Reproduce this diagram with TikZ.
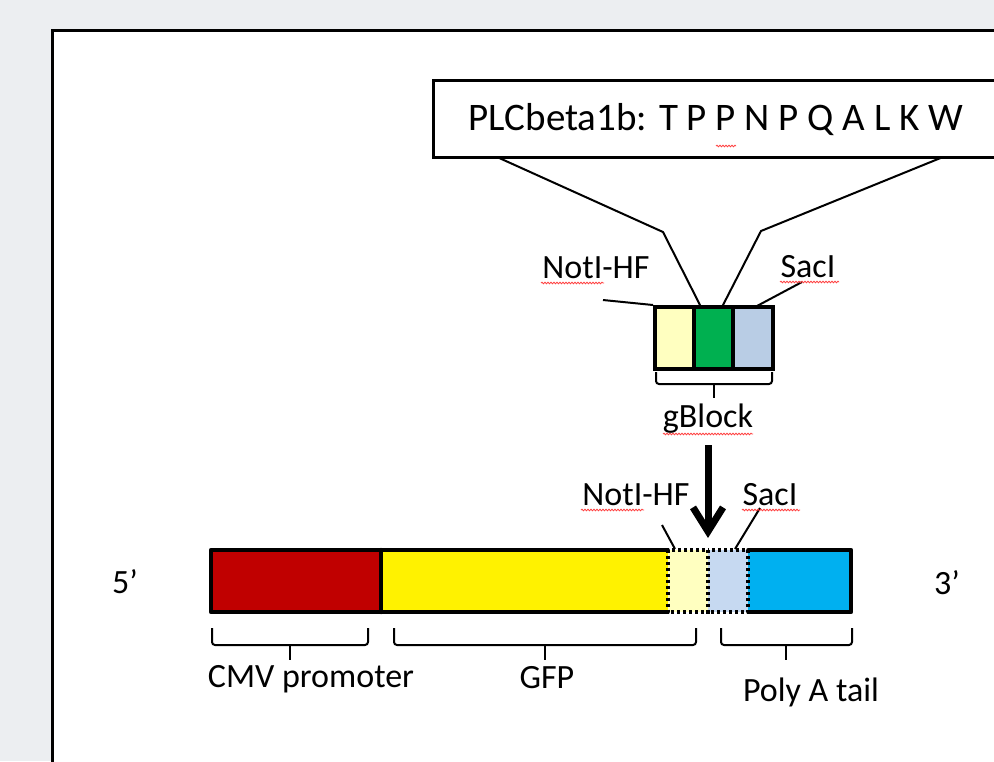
\documentclass[tikz,border=0pt]{standalone}
\usepackage{fontspec}
\setmainfont{Carlito}
\usetikzlibrary{arrows.meta,decorations.pathmorphing,calc}
\definecolor{bgc}{RGB}{236,238,241}
\definecolor{cmvred}{RGB}{192,0,0}
\definecolor{paleyel}{RGB}{255,255,192}
\definecolor{gbgreen}{RGB}{0,176,80}
\definecolor{gbblue}{RGB}{185,205,229}
\definecolor{ltblue}{RGB}{198,217,241}
\definecolor{cyanb}{RGB}{0,176,240}
\begin{document}
\begin{tikzpicture}[x=1pt,y=-1pt,
  lbl/.style={font=\fontsize{34}{40}\selectfont, inner sep=0pt},
  hdrtxt/.style={font=\fontsize{39}{46}\selectfont, inner sep=0pt},
  leader/.style={line width=2pt},
  bracepath/.style={line width=2pt, rounded corners=3pt},
  gcell/.style={draw, line width=4pt, minimum height=62pt, inner sep=0pt},
  bcell/.style={minimum height=62pt, inner sep=0pt},
  solidbar/.style={line width=4pt, line join=round, line cap=round},
  dotbar/.style={line width=3.5pt, dash pattern=on 3pt off 3pt},
  wavy/.style={red!75!white, line width=0.8pt, decorate,
    decoration={snake, amplitude=0.8pt, segment length=3pt}}
]
\clip (0,0) rectangle (994,761);
\fill[bgc] (0,0) rectangle (994,761);
\fill[white] (52,30) rectangle (1000,800);
\draw[line width=3pt] (52,800) -- (52,30) -- (1000,30);

% header box
\node[draw, line width=3pt, minimum width=562pt, minimum height=77pt, inner sep=0pt] (hdr) at (714,118.5) {};
\node[hdrtxt] (hdrt) at (716,120) {PLCbeta1b: T P P N P Q A L K W};
\draw[wavy] (716,146) -- (736,146);

% gBlock cells
\node[gcell, fill=paleyel, minimum width=39pt] (gy) at (674.5,338) {};
\node[gcell, fill=gbgreen, minimum width=39pt] (gg) at (713.5,338) {};
\node[gcell, fill=gbblue, minimum width=40pt] (gb) at (753,338) {};

% header to gBlock lines
\coordinate (hl) at (497,157);
\coordinate (hlb) at (663,232);
\coordinate (hlc) at (701,307);
\coordinate (hr) at (943,157);
\coordinate (hrb) at (761,231);
\coordinate (hrc) at (722,307);
\draw[leader] (hl) -- (hlb) -- (hlc);
\draw[leader] (hr) -- (hrb) -- (hrc);

% top labels
\node[lbl] (nh1) at (596,268) {NotI-HF};
\node[lbl] (sc1) at (808,267) {SacI};
\coordinate (n1a) at (603,300);
\coordinate (s1a) at (802,282);
\coordinate (s1b) at (757,306);
\draw[leader] (n1a) -- (gy.north west);
\draw[leader] (s1a) -- (s1b);
\draw[wavy] (541,283) -- (604,283);
\draw[wavy] (780,282) -- (839,282);

% gBlock brace
\draw[bracepath] (656,372) -- (656,384) -- (772,384) -- (772,372);
\draw[leader] (714,384) -- (714,398);
\node[lbl] (gbl) at (708,419) {gBlock};
\draw[wavy] (663,434) -- (753,434);

% arrow
\coordinate (atop) at (708,445);
\coordinate (atip) at (708,538);
\draw[line width=7pt, -{Straight Barb[length=24pt,width=30pt]}] (atop) -- (atip);

% main bar
\node[bcell, fill=cmvred, minimum width=170pt] (cmv) at (296,581) {};
\node[bcell, fill=yellow, minimum width=287pt] (gfp) at (524.5,581) {};
\node[bcell, fill=paleyel, minimum width=40pt] (pale) at (688,581) {};
\node[bcell, fill=ltblue, minimum width=40pt] (sac) at (728,581) {};
\node[bcell, fill=cyanb, minimum width=103pt] (pa) at (799.5,581) {};
\draw[solidbar] (pale.north west) -- (cmv.north west) -- (cmv.south west) -- (pale.south west);
\draw[solidbar] (cmv.north east) -- (cmv.south east);
\draw[solidbar] (sac.north east) -- (pa.north east) -- (pa.south east) -- (sac.south east);
\draw[dotbar] (pale.north west) rectangle (pale.south east);
\draw[dotbar] (sac.north west) rectangle (sac.south east);

% lower labels
\node[lbl] (nh2) at (636,495) {NotI-HF};
\node[lbl] (sc2) at (770,495) {SacI};
\coordinate (n2a) at (662,525);
\coordinate (n2b) at (675,549);
\coordinate (s2a) at (760,508);
\coordinate (s2b) at (735,549);
\draw[leader] (n2a) -- (n2b);
\draw[leader] (s2a) -- (s2b);
\draw[wavy] (581,510) -- (644,510);
\draw[wavy] (742,510) -- (800,510);

% ends
\node[lbl] (five) at (125,582) {5’};
\node[lbl] (three) at (947,583) {3’};

% bottom braces
\draw[bracepath] (212,628) -- (212,645) -- (368,645) -- (368,628);
\draw[leader] (290,645) -- (290,660);
\node[lbl] (cmvl) at (311,679) {CMV promoter};
\draw[bracepath] (394,628) -- (394,645) -- (696,645) -- (696,628);
\draw[leader] (545,645) -- (545,660);
\node[lbl] (gfpl) at (547,678) {GFP};
\draw[bracepath] (721,628) -- (721,645) -- (852,645) -- (852,628);
\draw[leader] (786,645) -- (786,660);
\node[lbl] (pal) at (811,692) {Poly A tail};
\end{tikzpicture}
\end{document}
